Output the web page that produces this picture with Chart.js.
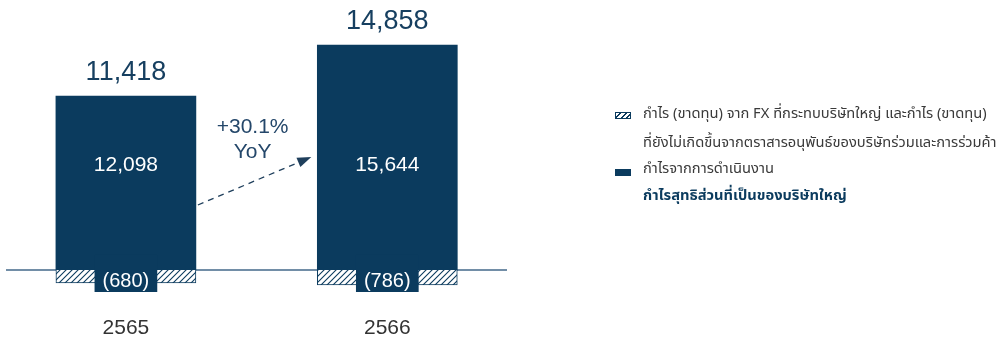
<!DOCTYPE html>
<html>
<head>
<meta charset="utf-8">
<script src="https://cdn.jsdelivr.net/npm/chart.js@4.4.1/dist/chart.umd.min.js"></script>
<style>
  html, body { margin: 0; padding: 0; background: #ffffff; }
  #wrap { position: relative; width: 1003px; height: 339px; overflow: hidden; }
  #c { position: absolute; left: 0; top: 0; }
  .lg { position: absolute; left: 643px; font-family: "Noto Sans Thai", "Noto Sans", sans-serif; font-size: 14.7px; color: #3a3a3a; white-space: nowrap; line-height: 20px; }
  .lg.b { color: #0b3b5e; font-weight: bold; }
  .ic { position: absolute; left: 615px; width: 16px; height: 7px; box-sizing: border-box; }
  .ic.h { border: 1px solid #0b3b5e; background: repeating-linear-gradient(135deg, #ffffff 0 2.5px, #0b3b5e 2.5px 4px); }
  .ic.s { background: #0b3b5e; }
</style>
</head>
<body>
<div id="wrap">
  <canvas id="c" width="1003" height="339"></canvas>
  <div class="ic h" style="top:112px"></div>
  <div class="lg" style="top:104px">กำไร (ขาดทุน) จาก FX ที่กระทบบริษัทใหญ่ และกำไร (ขาดทุน)</div>
  <div class="lg" style="top:133px">ที่ยังไม่เกิดขึ้นจากตราสารอนุพันธ์ของบริษัทร่วมและการร่วมค้า</div>
  <div class="ic s" style="top:169px"></div>
  <div class="lg" style="top:159px">กำไรจากการดำเนินงาน</div>
  <div class="lg b" style="top:186px">กำไรสุทธิส่วนที่เป็นของบริษัทใหญ่</div>
</div>
<script>
// ---- data ----
const categories = ['2565', '2566'];
const operatingProfit = [12098, 15644];
const fxGainLoss = [-680, -786];

// ---- styles ----
const NAVY = '#0b3b5e';
const NUM_FONT = '"Liberation Sans", Arial, sans-serif';

function makeHatch() {
  const t = document.createElement('canvas');
  t.width = 6; t.height = 6;
  const g = t.getContext('2d');
  g.fillStyle = '#ffffff';
  g.fillRect(0, 0, 6, 6);
  g.strokeStyle = NAVY;
  g.lineWidth = 1.1;
  g.beginPath();
  g.moveTo(-1, 7); g.lineTo(7, -1);
  g.moveTo(-4, 4); g.lineTo(4, -4);
  g.moveTo(2, 10); g.lineTo(10, 2);
  g.stroke();
  return g.createPattern(t, 'repeat');
}

const fmt = v => Math.abs(v).toLocaleString('en-US');

const overlay = {
  id: 'overlay',
  beforeDatasetsDraw(chart) {
    const ctx = chart.ctx;
    const y0 = chart.scales.y.getPixelForValue(0);
    ctx.save();
    ctx.strokeStyle = '#43698a';
    ctx.lineWidth = 1.5;
    ctx.beginPath();
    ctx.moveTo(chart.chartArea.left, y0);
    ctx.lineTo(chart.chartArea.right, y0);
    ctx.stroke();
    ctx.restore();
  },
  afterDatasetsDraw(chart) {
    const ctx = chart.ctx;
    const m0 = chart.getDatasetMeta(0);
    const m1 = chart.getDatasetMeta(1);
    const xs = chart.scales.x;
    ctx.save();
    ctx.textAlign = 'center';
    ctx.textBaseline = 'middle';
    const totals = [];
    categories.forEach((cat, i) => {
      const e0 = m0.data[i];
      const e1 = m1.data[i];
      const base = e0.base;
      ctx.fillStyle = '#ffffff';
      ctx.font = '21px ' + NUM_FONT;
      ctx.fillText(fmt(operatingProfit[i]), e0.x, base - 105);
      ctx.font = '20px ' + NUM_FONT;
      const txt = '(' + fmt(fxGainLoss[i]) + ')';
      const w = ctx.measureText(txt).width + 16;
      ctx.fillStyle = NAVY;
      ctx.fillRect(e1.x - w / 2, base - 15, w, 37);
      ctx.fillStyle = '#ffffff';
      ctx.fillText(txt, e1.x, base + 11);
      const total = operatingProfit[i] + fxGainLoss[i];
      totals.push(total);
      ctx.fillStyle = '#163f60';
      ctx.font = '27px ' + NUM_FONT;
      ctx.fillText(total.toLocaleString('en-US'), e0.x, e0.y - 24);
      ctx.fillStyle = '#333333';
      ctx.font = '21px ' + NUM_FONT;
      ctx.fillText(cat, xs.getPixelForValue(i), base + 58);
    });
    const a = m0.data[0], b = m0.data[1];
    const base = a.base;
    const pct = (totals[1] - totals[0]) / totals[0] * 100;
    const midX = (a.x + b.x) / 2 - 4;
    ctx.fillStyle = '#24476a';
    ctx.font = '21px ' + NUM_FONT;
    ctx.fillText((pct >= 0 ? '+' : '') + pct.toFixed(1) + '%', midX, base - 143);
    ctx.fillText('YoY', midX, base - 118);
    const x1 = a.x + a.width / 2 + 2, y1 = base - 65;
    const x2 = b.x - b.width / 2 - 6, y2 = base - 113;
    const ang = Math.atan2(y2 - y1, x2 - x1);
    const hl = 14, hw = 5;
    const bx = x2 - hl * Math.cos(ang), by = y2 - hl * Math.sin(ang);
    ctx.strokeStyle = '#1f3f5c';
    ctx.lineWidth = 1.3;
    ctx.setLineDash([6, 5]);
    ctx.beginPath();
    ctx.moveTo(x1, y1);
    ctx.lineTo(bx, by);
    ctx.stroke();
    ctx.setLineDash([]);
    ctx.fillStyle = '#1f3f5c';
    ctx.beginPath();
    ctx.moveTo(x2, y2);
    ctx.lineTo(bx + hw * Math.sin(ang), by - hw * Math.cos(ang));
    ctx.lineTo(bx - hw * Math.sin(ang), by + hw * Math.cos(ang));
    ctx.closePath();
    ctx.fill();
    ctx.restore();
  }
};

new Chart(document.getElementById('c'), {
  type: 'bar',
  data: {
    datasets: [
      {
        label: 'กำไรจากการดำเนินงาน',
        data: operatingProfit.map((v, i) => ({ x: i, y: v })),
        backgroundColor: NAVY,
        borderWidth: 0,
        yAxisID: 'y',
        grouped: false,
        barThickness: 140,
        order: 2
      },
      {
        label: 'กำไร (ขาดทุน) จาก FX',
        data: fxGainLoss.map((v, i) => ({ x: i, y: v })),
        backgroundColor: makeHatch(),
        borderColor: NAVY,
        borderWidth: 1,
        yAxisID: 'y2',
        grouped: false,
        barThickness: 140,
        order: 1
      }
    ]
  },
  options: {
    responsive: false,
    devicePixelRatio: 1,
    animation: false,
    layout: { padding: { left: 6, right: 496, top: 10, bottom: 39 } },
    plugins: { legend: { display: false }, tooltip: { enabled: false }, title: { display: false } },
    scales: {
      x: { type: 'linear', display: false, offset: false, grid: { offset: false }, min: -0.4587, max: 1.4579 },
      y: { display: false, min: -2088, max: 18093 },
      y2: { display: false, min: -1571, max: 13613 }
    }
  },
  plugins: [overlay]
});
</script>
</body>
</html>
